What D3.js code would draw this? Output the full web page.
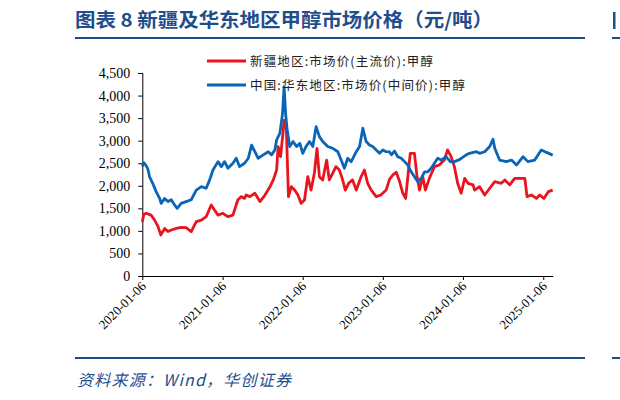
<!DOCTYPE html>
<html><head><meta charset="utf-8">
<script src="https://cdn.jsdelivr.net/npm/d3@7/dist/d3.min.js"></script>
<style>
html,body{margin:0;padding:0;background:#fff;}
svg{display:block;}
</style></head>
<body><svg id="c" width="620" height="400"></svg>
<script>
const titleText = "图表 8 新疆及华东地区甲醇市场价格（元/吨）";
const sourceText = "资料来源：Wind，华创证券";
const seriesNames = ["新疆地区:市场价(主流价):甲醇", "中国:华东地区:市场价(中间价):甲醇"];
const xTickLabels = ["2020-01-06","2021-01-06","2022-01-06","2023-01-06","2024-01-06","2025-01-06"];
const yTicks = [0,500,1000,1500,2000,2500,3000,3500,4000,4500];

const blueDates = ["2020-01-06","2020-01-13","2020-01-20","2020-01-31","2020-02-08","2020-02-23","2020-03-09","2020-03-25","2020-04-01","2020-04-17","2020-05-02","2020-05-17","2020-06-01","2020-06-13","2020-07-01","2020-07-24","2020-08-16","2020-09-08","2020-10-01","2020-10-23","2020-11-08","2020-11-23","2020-12-16","2020-12-31","2021-01-15","2021-01-30","2021-02-22","2021-03-09","2021-03-24","2021-04-16","2021-05-03","2021-05-18","2021-06-02","2021-06-17","2021-07-10","2021-08-02","2021-08-17","2021-09-01","2021-09-09","2021-09-24","2021-10-06","2021-10-13","2021-10-20","2021-10-27","2021-11-08","2021-11-23","2021-12-09","2021-12-24","2022-01-06","2022-01-21","2022-02-06","2022-02-21","2022-03-08","2022-03-23","2022-04-07","2022-04-30","2022-05-23","2022-06-15","2022-06-30","2022-07-15","2022-07-30","2022-08-15","2022-09-07","2022-09-22","2022-10-07","2022-10-22","2022-11-06","2022-11-21","2022-12-07","2022-12-22","2023-01-06","2023-01-21","2023-02-06","2023-02-14","2023-02-28","2023-03-15","2023-03-31","2023-04-15","2023-04-30","2023-05-15","2023-05-30","2023-06-14","2023-06-30","2023-07-15","2023-07-30","2023-08-14","2023-08-29","2023-09-13","2023-09-29","2023-10-21","2023-11-10","2023-11-28","2023-12-21","2024-01-21","2024-02-05","2024-03-07","2024-03-22","2024-04-14","2024-05-07","2024-05-22","2024-05-30","2024-06-21","2024-07-22","2024-08-14","2024-09-06","2024-10-06","2024-10-28","2024-11-28","2024-12-28","2025-01-21","2025-02-18"];
const blueValues = [2430,2510,2470,2380,2200,2050,1870,1720,1610,1720,1650,1690,1575,1500,1610,1650,1690,1905,1980,1945,2130,2350,2535,2425,2535,2390,2500,2610,2425,2500,2610,2900,2755,2610,2685,2755,2685,2795,3015,3165,3600,4200,3600,3240,2870,2980,2870,2940,2720,2870,2980,2870,3310,3090,2980,2870,2830,2755,2570,2390,2610,2535,2755,2870,3275,2980,2905,2870,2795,2720,2795,2755,2750,2685,2770,2645,2610,2535,2460,2310,2200,2090,2165,2310,2310,2390,2500,2610,2570,2645,2530,2535,2580,2685,2720,2755,2720,2755,2870,3030,2830,2570,2535,2570,2460,2645,2535,2570,2795,2740,2680];

const redDates = ["2020-01-06","2020-01-13","2020-01-24","2020-02-15","2020-03-02","2020-03-18","2020-03-30","2020-04-17","2020-05-02","2020-05-17","2020-06-09","2020-07-02","2020-07-24","2020-08-16","2020-09-08","2020-10-01","2020-10-23","2020-11-15","2020-11-30","2020-12-16","2021-01-07","2021-01-30","2021-02-22","2021-03-16","2021-03-31","2021-04-16","2021-04-23","2021-05-10","2021-06-02","2021-06-25","2021-07-18","2021-08-10","2021-08-25","2021-09-09","2021-09-16","2021-09-27","2021-10-08","2021-10-13","2021-10-23","2021-11-02","2021-11-15","2021-11-30","2021-12-15","2021-12-30","2022-01-14","2022-01-29","2022-02-13","2022-02-28","2022-03-12","2022-03-23","2022-04-07","2022-04-25","2022-05-07","2022-05-23","2022-06-06","2022-06-22","2022-07-07","2022-07-19","2022-08-03","2022-08-21","2022-09-07","2022-09-29","2022-10-14","2022-10-29","2022-11-14","2022-12-07","2022-12-28","2023-01-21","2023-02-06","2023-02-21","2023-03-08","2023-03-23","2023-04-07","2023-04-20","2023-04-30","2023-05-11","2023-05-30","2023-06-10","2023-06-22","2023-07-07","2023-07-19","2023-08-06","2023-08-29","2023-09-20","2023-10-13","2023-10-28","2023-11-13","2023-11-28","2023-12-13","2023-12-29","2024-01-14","2024-01-29","2024-02-21","2024-02-28","2024-03-22","2024-04-14","2024-05-07","2024-05-30","2024-06-29","2024-07-15","2024-08-06","2024-08-29","2024-10-14","2024-10-24","2024-11-13","2024-12-06","2024-12-21","2025-01-09","2025-01-29","2025-02-18"];
const redValues = [1200,1370,1390,1350,1240,1095,910,1055,985,1020,1055,1080,1070,985,1205,1240,1315,1575,1465,1350,1390,1315,1350,1685,1760,1720,1795,1760,1835,1650,1795,1980,2130,2350,2870,2645,3165,3450,3310,1760,1980,1905,1795,1610,1685,2200,1905,2280,2830,2200,2130,2570,2130,2280,2425,2350,2130,1905,2055,2130,1905,2200,2350,2055,1905,1760,1795,1905,2150,2240,2300,2100,1835,1720,2200,2720,2720,2240,1905,2200,1905,2165,2425,2460,2570,2795,2645,2425,2055,1835,2165,2055,2020,1905,1980,1795,1945,2090,2055,2130,2020,2165,2165,1760,1795,1720,1795,1720,1870,1905];

const colors = {red:"#E8141E", blue:"#0A64B7", brand:"#1F4E8C"};
const parse = d3.timeParse("%Y-%m-%d");
const svg = d3.select("#c");

// title
svg.append("text").attr("x",75).attr("y",27)
  .attr("font-family","'Noto Sans CJK SC', sans-serif").attr("font-weight","bold")
  .attr("font-size",19).attr("fill",colors.brand)
  .attr("textLength",418).attr("lengthAdjust","spacingAndGlyphs").text(titleText);
svg.append("line").attr("x1",75).attr("x2",585).attr("y1",38).attr("y2",38)
  .attr("stroke",colors.brand).attr("stroke-width",2);
// fragment of the next chart at the right edge (drawn as marks)
svg.append("rect").attr("x",613).attr("y",12).attr("width",2.5).attr("height",17).attr("fill",colors.brand);
svg.append("line").attr("x1",612).attr("x2",620).attr("y1",38).attr("y2",38)
  .attr("stroke",colors.brand).attr("stroke-width",2);

const x = d3.scaleTime().domain([parse("2020-01-06"), parse("2025-02-18")]).range([142.3, 552.7]);
const y = d3.scaleLinear().domain([0,4500]).range([276,73]);

const yAxis = d3.axisLeft(y).tickValues(yTicks).tickFormat(d3.format(",")).tickSize(4).tickPadding(8);
const gy = svg.append("g").attr("transform","translate(142.3,0)").call(yAxis);
gy.selectAll("text").attr("font-family","'Liberation Serif', 'Times New Roman', serif").attr("font-size",14).attr("fill","#000");
gy.select(".domain").attr("stroke","#000");
gy.selectAll(".tick line").attr("stroke","#000");

const xAxis = d3.axisBottom(x).tickValues(xTickLabels.map(parse)).tickFormat(d3.timeFormat("%Y-%m-%d")).tickSize(4).tickSizeOuter(0);
const gx = svg.append("g").attr("transform","translate(0,276)").call(xAxis);
gx.select(".domain").attr("stroke","#000");
gx.selectAll(".tick line").attr("stroke","#000");
gx.selectAll("text").attr("font-family","'Liberation Serif', 'Times New Roman', serif").attr("font-size",13).attr("fill","#000")
  .attr("text-anchor","end").attr("dy",null).attr("y",null)
  .attr("transform","translate(4,11) rotate(-45)");

const line = d3.line().x(d=>x(d[0])).y(d=>y(d[1]));
const redData = redDates.map((d,i)=>[parse(d), redValues[i]]);
const blueData = blueDates.map((d,i)=>[parse(d), blueValues[i]]);
svg.append("path").datum(redData).attr("d",line).attr("fill","none").attr("stroke",colors.red).attr("stroke-width",2.8).attr("stroke-linejoin","round");
svg.append("path").datum(blueData).attr("d",line).attr("fill","none").attr("stroke",colors.blue).attr("stroke-width",2.8).attr("stroke-linejoin","round");

// legend
const leg = [{c:colors.red, t:seriesNames[0], y:61, w:183},{c:colors.blue, t:seriesNames[1], y:85, w:215}];
leg.forEach(l=>{
  svg.append("line").attr("x1",207).attr("x2",246).attr("y1",l.y).attr("y2",l.y).attr("stroke",l.c).attr("stroke-width",3);
  svg.append("text").attr("x",250).attr("y",l.y+4.5).attr("font-family","'Noto Sans CJK SC', sans-serif")
    .attr("font-size",12.5).attr("fill","#222")
    .attr("textLength",l.w).attr("lengthAdjust","spacing").text(l.t);
});

// bottom rule & source
svg.append("line").attr("x1",75).attr("x2",585).attr("y1",358).attr("y2",358).attr("stroke",colors.brand).attr("stroke-width",2);
svg.append("line").attr("x1",612).attr("x2",620).attr("y1",358).attr("y2",358).attr("stroke",colors.brand).attr("stroke-width",2);
svg.append("text").attr("x",77).attr("y",386).attr("font-family","'Noto Sans CJK SC', sans-serif")
  .attr("font-style","italic").attr("font-size",16).attr("fill",colors.brand)
  .attr("textLength",214).attr("lengthAdjust","spacing").text(sourceText);
</script></body></html>
